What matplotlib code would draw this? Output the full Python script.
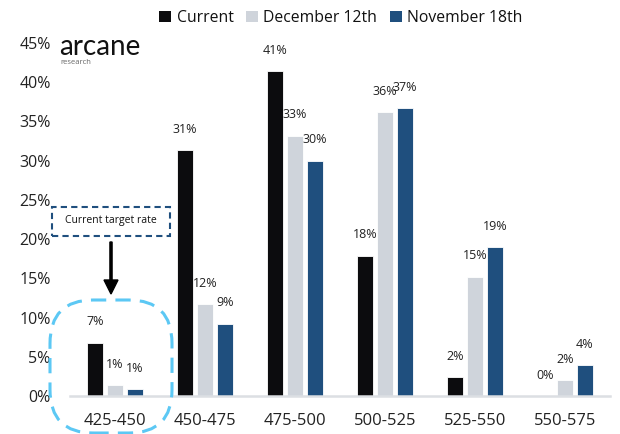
import matplotlib
matplotlib.use("Agg")
import matplotlib.pyplot as plt
import numpy as np
from matplotlib.patches import FancyBboxPatch, Rectangle, Patch

plt.rcParams['font.family'] = ['Open Sans', 'DejaVu Sans']

categories = ["425-450", "450-475", "475-500", "500-525", "525-550", "550-575"]
series_names = ["Current", "December 12th", "November 18th"]
current = [6.8, 31.3, 41.4, 17.9, 2.4, 0.0]
december = [1.4, 11.7, 33.2, 36.2, 15.2, 2.0]
november = [0.9, 9.2, 30.0, 36.7, 19.0, 3.9]
value_labels = [
    ["7%", "31%", "41%", "18%", "2%", "0%"],
    ["1%", "12%", "33%", "36%", "15%", "2%"],
    ["1%", "9%", "30%", "37%", "19%", "4%"],
]
yticks = [0, 5, 10, 15, 20, 25, 30, 35, 40, 45]
colors = ["#0c0c0e", "#cfd4db", "#1f4f7e"]

W, H = 620, 434
fig = plt.figure(figsize=(W / 100, H / 100), dpi=100)
ax = fig.add_axes([70 / W, 38 / H, 540 / W, 353 / H])

x = np.arange(len(categories))
width = 0.178
step = 0.222
for i, (vals, col) in enumerate(zip([current, december, november], colors)):
    pos = x + (i - 1) * step
    bars = ax.bar(pos, vals, width=width, color=col, edgecolor="white", linewidth=0.6, zorder=2)
    for b, lab in zip(bars, value_labels[i]):
        ax.annotate(lab, (b.get_x() + b.get_width() / 2, b.get_height()),
                    xytext=(0, 15), textcoords="offset points",
                    ha="center", va="center", fontsize=9, color="#222222")

ax.set_xlim(-0.5, 5.5)
ax.set_ylim(0, 45)
ax.set_yticks(yticks)
ax.set_yticklabels([f"{t}%" for t in yticks], fontsize=11.5, color="#222222")
ax.set_xticks(x)
ax.set_xticklabels(categories, fontsize=12, color="#222222")
ax.tick_params(axis="y", length=0, pad=14)
ax.tick_params(axis="x", length=0, pad=12)
for s in ["top", "right", "left"]:
    ax.spines[s].set_visible(False)
ax.spines["bottom"].set_color("#dcdfe3")
ax.spines["bottom"].set_linewidth(1.8)

# legend
handles = [Patch(facecolor=c, edgecolor="none") for c in colors]
fig.legend(handles, series_names, loc="center", bbox_to_anchor=(341 / W, 416 / H),
           ncol=3, frameon=False, fontsize=11.3, handlelength=0.75, handleheight=0.75,
           handletextpad=0.35, columnspacing=0.8, labelcolor="#111111")

# logo
fig.text(59 / W, (H - 55) / H, "arcane", fontsize=20, color="#111111",
         fontfamily="Lato", va="baseline", ha="left")
fig.text(60 / W, (H - 64) / H, "research", fontsize=5.5, color="#666666",
         va="baseline", ha="left")

# target-rate annotation
def px(xp, yp):
    return (xp / W, (H - yp) / H)

box = Rectangle(px(52, 236), 118 / W, 29 / H, transform=fig.transFigure,
                fill=False, edgecolor="#1f4f7e", linestyle=(0, (3, 2)), linewidth=1.5)
fig.patches.append(box)
fig.text(111 / W, (H - 221) / H, "Current target rate", fontsize=7.5,
         ha="center", va="center", color="#111111")
fig.patches.append(matplotlib.patches.FancyArrow(
    111 / W, (H - 242) / H, 0, -(52) / H, width=1.5 / H, head_width=14 / W,
    head_length=14 / H, length_includes_head=True, transform=fig.transFigure,
    color="#000000"))
rbox = FancyBboxPatch(px(50, 433), 122 / W, 133 / H,
                      boxstyle="round,pad=0,rounding_size=0.07",
                      transform=fig.transFigure, fill=False,
                      edgecolor="#5cc8f4", linestyle=(0, (5, 3)), linewidth=2.2,
                      mutation_aspect=W / H)
fig.patches.append(rbox)

fig.savefig("out.png", dpi=100)
